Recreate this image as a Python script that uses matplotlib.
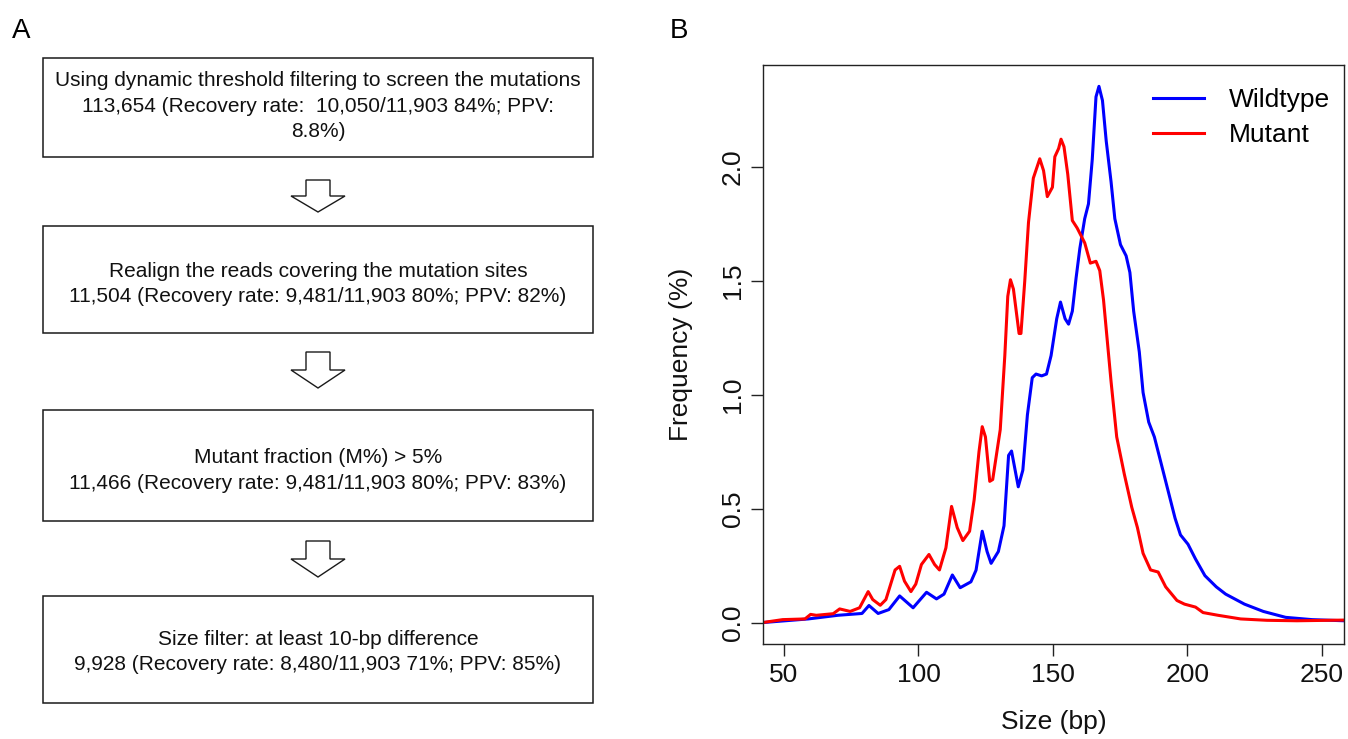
import matplotlib
matplotlib.use('Agg')
import matplotlib.pyplot as plt
from matplotlib.patches import Rectangle, Polygon

plt.rcParams['font.family'] = ['Liberation Sans', 'DejaVu Sans']

# ---------------- data (panel B) ----------------
wt_size = [42, 59, 70, 79, 81.6, 85, 89, 93, 98, 103,
           106.7, 109.5, 112.6, 115.5, 119.5, 121.4, 123.7, 125.5, 127, 129.7,
           131.8, 133.5, 134.6, 137.1, 138.8, 140.5, 142.3, 143.7, 145.8, 147.6,
           149.3, 151.4, 152.8, 154.5, 155.8, 157.2, 158.6, 160, 161.8, 163.2,
           164.6, 166, 167.1, 168.4, 169.8, 171.6, 173, 175.1, 177.2, 178.6,
           180, 182.1, 183.5, 185.6, 187.7, 189.8, 192.6, 195.4, 197.4, 200.2,
           203, 206.5, 210.7, 214.2, 221.2, 228.2, 236.5, 246.3, 258.2]
wt_freq = [0.0, 0.016, 0.032, 0.04, 0.075, 0.04, 0.057, 0.117, 0.065, 0.133,
           0.104, 0.125, 0.209, 0.153, 0.179, 0.23, 0.401, 0.312, 0.26, 0.312,
           0.425, 0.734, 0.753, 0.596, 0.669, 0.912, 1.075, 1.091, 1.083, 1.091,
           1.172, 1.334, 1.407, 1.334, 1.31, 1.367, 1.513, 1.643, 1.773, 1.838,
           2.032, 2.308, 2.354, 2.292, 2.114, 1.935, 1.773, 1.659, 1.61, 1.537,
           1.367, 1.188, 1.01, 0.88, 0.815, 0.718, 0.588, 0.458, 0.385, 0.344,
           0.279, 0.206, 0.157, 0.125, 0.081, 0.049, 0.023, 0.013, 0.008]

mut_size = [42, 49.5, 57.8, 59.9, 62, 68.3, 70.7, 74.6, 78.1, 81.3,
            83, 85.8, 87.9, 91.3, 93, 94.8, 97.2, 99, 101.1, 103.9,
            106, 107.8, 110.2, 112.3, 114.4, 116.5, 119, 120.7, 122.5, 123.7,
            124.9, 126.5, 127.6, 130.4, 132.1, 133.2, 134.2, 135.3, 137.4, 138.1,
            139.5, 140.9, 142.7, 145.1, 146.5, 147.9, 149.8, 150.7, 152.1, 153,
            154.1, 155.5, 157.2, 159, 161.8, 163.9, 166, 167.4, 168.8, 170.2,
            171.6, 173.7, 176.5, 179.3, 181.4, 183.5, 186.3, 189.1, 191.9, 196.1,
            198.9, 203, 205.8, 211.4, 219.8, 229.6, 240.7, 258.2]
mut_freq = [0.0, 0.013, 0.016, 0.036, 0.032, 0.039, 0.06, 0.049, 0.065, 0.136,
            0.101, 0.076, 0.101, 0.231, 0.247, 0.182, 0.136, 0.169, 0.255, 0.299,
            0.255, 0.231, 0.328, 0.51, 0.417, 0.36, 0.401, 0.539, 0.75, 0.86,
            0.815, 0.62, 0.628, 0.847, 1.172, 1.432, 1.505, 1.464, 1.269, 1.269,
            1.497, 1.756, 1.951, 2.036, 1.984, 1.87, 1.911, 2.045, 2.081, 2.122,
            2.089, 1.968, 1.765, 1.732, 1.667, 1.578, 1.586, 1.545, 1.416, 1.237,
            1.058, 0.815, 0.653, 0.506, 0.417, 0.304, 0.231, 0.222, 0.157, 0.097,
            0.081, 0.068, 0.044, 0.032, 0.016, 0.01, 0.008, 0.011]

series_labels = ['Wildtype', 'Mutant']
x_ticks = [50, 100, 150, 200, 250]
y_ticks = [0.0, 0.5, 1.0, 1.5, 2.0]
y_tick_labels = ['0.0', '0.5', '1.0', '1.5', '2.0']

# ---------------- text (panel A) ----------------
flow_texts = [
    ["Using dynamic threshold filtering to screen the mutations",
     "113,654 (Recovery rate:  10,050/11,903 84%; PPV:",
     "8.8%)"],
    ["Realign the reads covering the mutation sites",
     "11,504 (Recovery rate: 9,481/11,903 80%; PPV: 82%)"],
    ["Mutant fraction (M%) > 5%",
     "11,466 (Recovery rate: 9,481/11,903 80%; PPV: 83%)"],
    ["Size filter: at least 10-bp difference",
     "9,928 (Recovery rate: 8,480/11,903 71%; PPV: 85%)"],
]

# ---------------- figure ----------------
W, H = 1348, 739
fig = plt.figure(figsize=(W / 100, H / 100), dpi=100)

# Panel A: flow chart drawn in a pixel-coordinate overlay
axf = fig.add_axes([0, 0, 1, 1])
axf.set_xlim(0, W)
axf.set_ylim(H, 0)
axf.axis('off')

box_x0, box_x1 = 43, 593
box_cx = (box_x0 + box_x1) / 2
box_y = [(58, 157), (226, 333), (410, 521), (596, 703)]
text_shift = [-3.5, 2.5, 3.0, 0.5]
arrow_y = [(180, 212), (352, 388), (541, 577)]
edge = '#1a1a1a'
line_step = 25.5
cap_half = 7.5

for (y0, y1), lines, sh in zip(box_y, flow_texts, text_shift):
    axf.add_patch(Rectangle((box_x0, y0), box_x1 - box_x0, y1 - y0,
                            fill=False, ec=edge, lw=1.1))
    cy = (y0 + y1) / 2 + sh
    n = len(lines)
    for i, t in enumerate(lines):
        yc = cy + (i - (n - 1) / 2) * line_step
        axf.text(box_cx, yc + cap_half, t, ha='center', va='baseline',
                 fontsize=15, color='#111111')

for top, tip in arrow_y:
    neck = (top + tip) / 2
    cx = box_cx
    poly = [(cx - 12, top), (cx + 12, top), (cx + 12, neck), (cx + 27, neck),
            (cx, tip), (cx - 27, neck), (cx - 12, neck)]
    axf.add_patch(Polygon(poly, closed=True, fill=False, ec=edge, lw=1.0,
                          joinstyle='miter'))

# Panel B: size distribution
ax = fig.add_axes([763 / W, 1 - 644 / H, 581 / W, (644 - 64.7) / H])
ax.plot(wt_size, wt_freq, color='#0000FF', lw=2.2, label=series_labels[0])
ax.plot(mut_size, mut_freq, color='#FF0000', lw=2.2, label=series_labels[1])
ax.set_xlim(42.2, 258.2)
ax.set_ylim(-0.094, 2.449)
ax.set_xticks(x_ticks)
ax.set_yticks(y_ticks)
ax.set_yticklabels(y_tick_labels)
for s in ax.spines.values():
    s.set_linewidth(1.0)
    s.set_color('#222222')
ax.tick_params(direction='out', length=8.6, width=1.0, color='#222222',
               labelsize=19, labelcolor='#111111')
ax.tick_params(axis='x', pad=5)
ax.tick_params(axis='y', pad=4.6)
for lab in ax.get_yticklabels():
    lab.set_rotation(90)
    lab.set_va('center')

ax.set_xlabel('Size (bp)', fontsize=19, color='#111111')
ax.xaxis.set_label_coords(0.5, (644 - 722) / 579.3)
ax.xaxis.label.set_va('center')
ax.set_ylabel('Frequency (%)', fontsize=19, color='#111111')
ax.yaxis.set_label_coords((681 - 763) / 581, 0.5)
ax.yaxis.label.set_va('center')

ax.legend(loc='upper left', bbox_to_anchor=(0.672, 0.959), frameon=False,
          fontsize=19, handlelength=1.9, handletextpad=0.95,
          labelspacing=0.39, borderpad=0, borderaxespad=0)

fig.text(12 / W, 1 - 38 / H, 'A', fontsize=20, ha='left', va='baseline')
fig.text(670 / W, 1 - 38 / H, 'B', fontsize=20, ha='left', va='baseline')

fig.savefig('out.png', dpi=100)
